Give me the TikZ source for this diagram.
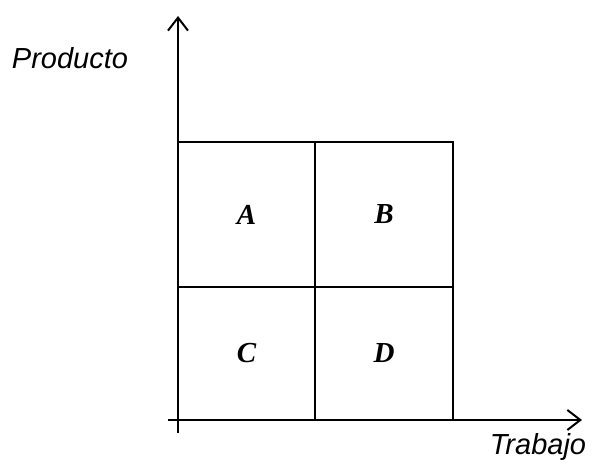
\documentclass[tikz,border=0pt]{standalone}
\usepackage{fontspec}
\setmainfont{Liberation Serif}
\setsansfont{Liberation Sans}
\usetikzlibrary{arrows.meta}
\begin{document}
\begin{tikzpicture}[x=1pt,y=1pt,
  cell/.style={draw,line width=1.8pt,inner sep=0pt,font=\fontsize{29}{33}\selectfont\bfseries\itshape},
  axis/.style={line width=1.8pt,-{Straight Barb[length=13pt,width=20pt,line width=2pt]}},
  axlabel/.style={font=\sffamily\itshape\fontsize{29}{33}\selectfont}]
\useasboundingbox (0,0) rectangle (595,465);
\fill[white] (0,0) rectangle (595,465);
\node[cell,minimum width=137pt,minimum height=145pt] (A) at (246.5,250.5) {A};
\node[cell,minimum width=138pt,minimum height=145pt] (B) at (384,250.5) {B};
\node[cell,minimum width=137pt,minimum height=133pt] (C) at (246.5,111.5) {C};
\node[cell,minimum width=138pt,minimum height=133pt] (D) at (384,111.5) {D};
\coordinate (ys) at (178,32);
\coordinate (ye) at (178,449);
\coordinate (xs) at (168,45);
\coordinate (xe) at (582,45);
\draw[axis] (ys) -- (ye);
\draw[axis] (xs) -- (xe);
\node[axlabel] (py) at (70,407) {Producto};
\node[axlabel] (px) at (538,18) {Trabajo};
\end{tikzpicture}
\end{document}
